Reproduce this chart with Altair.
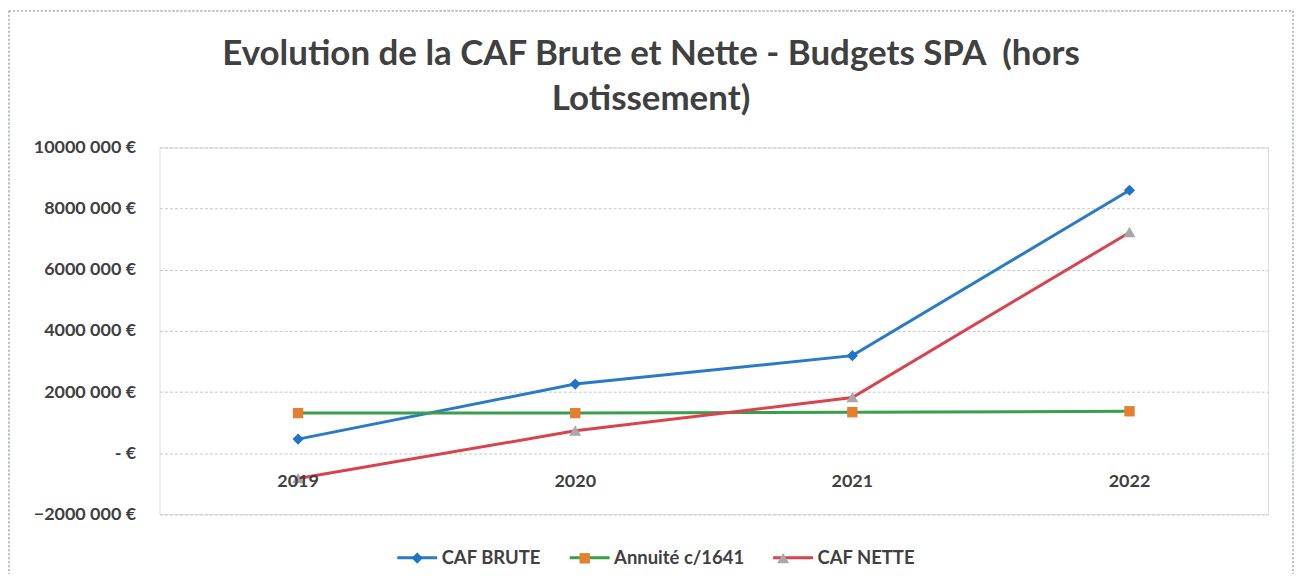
import altair as alt
import pandas as pd

years = ["2019", "2020", "2021", "2022"]
series = ["CAF BRUTE", "Annuité c/1641", "CAF NETTE"]
caf_brute = [460000, 2260000, 3190000, 8600000]
annuite = [1310000, 1310000, 1340000, 1370000]
caf_nette = [-830000, 730000, 1820000, 7220000]
y_ticks = [-2000000, 0, 2000000, 4000000, 6000000, 8000000, 10000000]

line_colors = ["#2a7ac7", "#3a9e4a", "#d9434f"]
marker_colors = ["#1f73c9", "#e67e30", "#a8a8a8"]
marker_paths = [
    "M0,-0.28L0.28,0L0,0.28L-0.28,0Z",
    "M-0.26,-0.26L0.26,-0.26L0.26,0.26L-0.26,0.26Z",
    "M0,-0.28L0.3,0.24L-0.3,0.24Z",
]

# marker key: same visible text, but a distinct value so its legend stays separate
markers = [s + "\u200b" for s in series]

rows = []
for name, mk, vals in zip(series, markers, [caf_brute, annuite, caf_nette]):
    for yr, v in zip(years, vals):
        rows.append({"year": yr, "series": name, "marker": mk, "value": v})
df = pd.DataFrame(rows)
df_years = pd.DataFrame({"year": years})

FONT = "Lato"
TXT = "#404040"
W, H = 1112, 368

x_enc = alt.X("year:N", scale=alt.Scale(domain=years, paddingOuter=0.5), axis=None)
y_scale = alt.Scale(domain=[-2000000, 10000000], nice=False)

legend_common = dict(
    orient="none", legendX=237, legendY=390, direction="horizontal", title=None,
    symbolSize=1600, symbolStrokeWidth=3, labelFont=FONT, labelFontSize=18.5,
    labelFontWeight="bold", labelColor=TXT, columnPadding=22, labelOffset=3,
    padding=0, labelLimit=300,
)
marker_legend_opts = {**legend_common, "labelColor": "transparent", "labelOpacity": 0,
                      "symbolStrokeColor": "transparent", "symbolOpacity": 1}

base = alt.Chart(df)

lines = base.mark_line(strokeWidth=3).encode(
    x=x_enc,
    y=alt.Y("value:Q", scale=y_scale, title=None,
            axis=alt.Axis(values=y_ticks, grid=True, gridDash=[3, 2], gridColor="#c3c8cc",
                          domain=False, ticks=False, labelPadding=24,
                          labelFont=FONT, labelFontSize=18, labelFontWeight="bold",
                          labelColor=TXT,
                          labelExpr="datum.value == 0 ? '-     €' : format(datum.value/1000, 'd') + ' 000 €'")),
    color=alt.Color("series:N", scale=alt.Scale(domain=series, range=line_colors),
                    legend=alt.Legend(symbolType="M-1,0L1,0", **legend_common)),
    order=alt.Order("year:N"),
)

points = base.mark_point(filled=True, size=1600, strokeWidth=0, opacity=1).encode(
    x=x_enc,
    y=alt.Y("value:Q", scale=y_scale),
    fill=alt.Fill("marker:N", scale=alt.Scale(domain=markers, range=marker_colors),
                  legend=alt.Legend(**marker_legend_opts)),
    shape=alt.Shape("marker:N", scale=alt.Scale(domain=markers, range=marker_paths),
                    legend=alt.Legend(**marker_legend_opts)),
)

labels = alt.Chart(df_years).mark_text(
    font=FONT, fontSize=18, fontWeight="bold", color=TXT, dy=29, baseline="middle"
).encode(
    x=x_enc,
    y=alt.datum(0, scale=y_scale),
    text="year:N",
)

border = alt.Chart(df_years).mark_rect(
    fill=None, stroke="#b8c0c4", strokeDash=[2, 2], strokeWidth=1
).encode(
    x=alt.value(-151), x2=alt.value(W + 25), y=alt.value(-137), y2=alt.value(H + 80),
)

chart = alt.layer(border, lines, points, labels).resolve_scale(
    y="shared"
).properties(
    width=W, height=H,
    autosize=alt.AutoSizeParams(type="none"),
    padding={"left": 152, "top": 139, "right": 26, "bottom": 59},
    title=alt.TitleParams(
        ["Evolution de la CAF Brute et Nette - Budgets SPA \u00a0(hors", "Lotissement)"],
        font=FONT, fontSize=35, fontWeight="bold", color=TXT,
        anchor="middle", frame="bounds", lineHeight=45, offset=-107,
    ),
).configure_view(stroke="transparent", strokeWidth=0).configure(background="white")

chart.save("out.html", embed_options={"renderer": "svg", "actions": False})
